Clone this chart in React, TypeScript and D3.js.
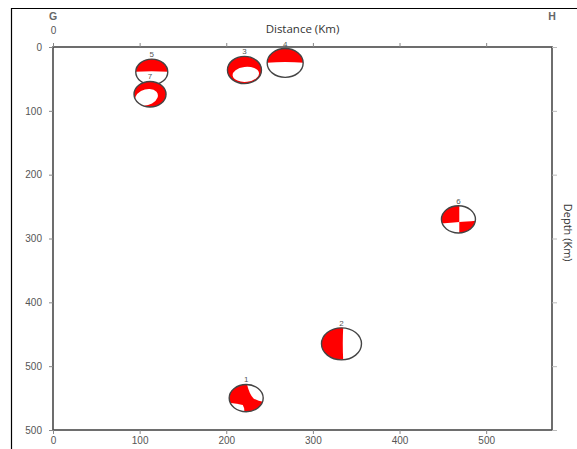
import React, { useRef, useEffect } from 'react';
import * as d3 from 'd3';

// focal mechanisms along profile G-H
const eventIds = ['1', '2', '3', '4', '5', '6', '7'];
const distances = [223, 333, 221, 268, 114, 468, 112];
const depths = [550, 465, 36, 25, 39, 270, 74];
const ballSizes = [17, 20, 17, 18, 16, 17, 16];
const mechanisms = ['oblique', 'half', 'lens', 'cap', 'cap', 'quad', 'lensLeft'];

const distTicks = [0, 100, 200, 300, 400, 500];
const depthTicks = [0, 100, 200, 300, 400, 500, 600];
const depthTickLabels = ['0', '100', '200', '300', '400', '500', '500'];

const RED = '#ff0000';
const FULL = 'M-1.3,-1.3H1.3V1.3H-1.3Z';

// beachball glyphs in unit-circle coordinates (y down)
const glyphs: Record<string, { fill: string; d?: string; e?: number[] }[]> = {
  cap: [
    { fill: '#fff', d: FULL },
    { fill: RED, d: 'M-1.3,-1.3H1.3V0.02Q0,-0.14 -1.3,0.02Z' },
  ],
  half: [
    { fill: '#fff', d: FULL },
    { fill: RED, d: 'M-1.3,-1.3H0.1Q0.03,0 0.1,1.3H-1.3Z' },
  ],
  lens: [
    { fill: RED, d: FULL },
    { fill: '#fff', e: [0.08, 0.32, 0.78, 0.55, -8] },
  ],
  lensLeft: [
    { fill: RED, d: FULL },
    { fill: '#fff', e: [-0.22, 0.24, 0.76, 0.6, -35] },
  ],
  quad: [
    { fill: '#fff', d: FULL },
    { fill: RED, d: 'M-1.3,-1.3H0.05V0.2Q-0.5,0.28 -1.3,0.32Z' },
    { fill: RED, d: 'M0.05,0.2Q0.5,0.16 1.3,0.08V1.3H0.05Z' },
  ],
  oblique: [
    { fill: RED, d: FULL },
    { fill: '#fff', d: 'M0.0,-1.3Q0.15,-0.3 0.45,0.05Q0.8,0.3 1.3,0.3V-1.3Z' },
    { fill: '#fff', d: 'M-1.3,0.3Q-0.6,0.4 -0.2,0.5Q-0.05,0.8 -0.15,1.3H-1.3Z' },
  ],
};

const App = () => {
  const chartRef = useRef<SVGSVGElement>(null);

  useEffect(() => {
    const chartDOM = chartRef.current;
    if (!chartDOM) return;
    const svg = d3.select(chartDOM);
    svg.selectAll('*').remove();

    const margin = { top: 47, right: 25, bottom: 19, left: 53 };
    const width = 577,
      height = 449;

    const x = d3.scaleLinear().domain([0, 576]).range([margin.left, width - margin.right]);
    const y = d3.scaleLinear().domain([0, 600]).range([margin.top, height - margin.bottom]);

    const font = "'Open Sans', 'Liberation Sans', sans-serif";
    const tickFont = "'Liberation Sans', Arial, sans-serif";

    // outer frame of the figure
    svg.append('path').attr('d', 'M11.5,449V8.5H577').attr('fill', 'none').attr('stroke', '#000').attr('stroke-width', 1.2);

    const defs = svg.append('defs');
    defs.append('clipPath').attr('id', 'unitBall').append('circle').attr('r', 1);

    // plot frame
    svg
      .append('rect')
      .attr('x', x(0))
      .attr('y', y(0))
      .attr('width', x(576) - x(0))
      .attr('height', y(600) - y(0))
      .attr('fill', 'none')
      .attr('stroke', '#4a4a4a')
      .attr('stroke-width', 1.6);

    const styleAxis = (g: any) => {
      g.select('.domain').remove();
      g.selectAll('line').attr('stroke', '#888');
      g.selectAll('text').attr('fill', '#555').attr('font-size', 10).attr('font-family', tickFont);
    };

    svg
      .append('g')
      .attr('transform', 'translate(0,' + y(600) + ')')
      .call(d3.axisBottom(x).tickValues(distTicks).tickSize(4).tickPadding(3).tickFormat(d3.format('d')))
      .call(styleAxis);

    svg
      .append('g')
      .attr('transform', 'translate(0,' + y(0) + ')')
      .call(
        d3
          .axisTop(x)
          .tickValues(distTicks)
          .tickSize(4)
          .tickPadding(9)
          .tickFormat((d: any) => (d === 0 ? '0' : ''))
      )
      .call(styleAxis);

    svg
      .append('g')
      .attr('transform', 'translate(' + x(0) + ',0)')
      .call(
        d3
          .axisLeft(y)
          .tickValues(depthTicks)
          .tickSize(4)
          .tickPadding(7)
          .tickFormat((d: any, i: number) => depthTickLabels[i])
      )
      .call(styleAxis);

    svg
      .append('g')
      .attr('transform', 'translate(' + x(576) + ',0)')
      .call(d3.axisRight(y).tickValues(depthTicks).tickSize(5).tickFormat(() => ''))
      .call(styleAxis)
      .selectAll('line')
      .attr('stroke', '#bbb');

    // titles
    svg
      .append('text')
      .attr('x', (x(0) + x(576)) / 2)
      .attr('y', 33)
      .attr('text-anchor', 'middle')
      .attr('font-family', font)
      .attr('font-size', 11.5)
      .attr('fill', '#333')
      .text('Distance (Km)');

    svg
      .append('text')
      .attr('transform', 'translate(564,' + (y(0) + y(600)) / 2.05 + ') rotate(90)')
      .attr('text-anchor', 'middle')
      .attr('font-family', font)
      .attr('font-size', 11)
      .attr('fill', '#333')
      .text('Depth (Km)');

    [
      ['G', x(0)],
      ['H', x(576)],
    ].forEach(([t, px]) => {
      svg
        .append('text')
        .attr('x', px as number)
        .attr('y', 20)
        .attr('text-anchor', 'middle')
        .attr('font-family', tickFont)
        .attr('font-weight', 'bold')
        .attr('font-size', 10.5)
        .attr('fill', '#666')
        .text(t as string);
    });

    // beachballs
    const events = eventIds.map((id, i) => ({
      id,
      dist: distances[i],
      depth: depths[i],
      size: ballSizes[i],
      mech: mechanisms[i],
    }));

    const balls = svg
      .append('g')
      .selectAll('g')
      .data(events)
      .enter()
      .append('g')
      .attr('transform', (d) => 'translate(' + x(d.dist) + ',' + y(d.depth) + ')');

    balls.each(function (d) {
      const g = d3.select(this);
      const rx = d.size,
        ry = d.size * 0.8;
      const inner = g
        .append('g')
        .attr('transform', 'scale(' + rx + ',' + ry + ')')
        .append('g')
        .attr('clip-path', 'url(#unitBall)');
      glyphs[d.mech].forEach((s) => {
        if (s.d) inner.append('path').attr('d', s.d).attr('fill', s.fill);
        else if (s.e)
          inner
            .append('ellipse')
            .attr('transform', 'translate(' + s.e[0] + ',' + s.e[1] + ') rotate(' + s.e[4] + ')')
            .attr('rx', s.e[2])
            .attr('ry', s.e[3])
            .attr('fill', s.fill);
      });
      g.append('ellipse')
        .attr('rx', rx)
        .attr('ry', ry)
        .attr('fill', 'none')
        .attr('stroke', '#444')
        .attr('stroke-width', 1.4);
      g.append('text')
        .attr('y', -ry - 2)
        .attr('text-anchor', 'middle')
        .attr('font-family', tickFont)
        .attr('font-size', 8)
        .attr('fill', '#555')
        .text(d.id);
    });
  });

  return (
    <svg
      ref={chartRef}
      width="577"
      height="449"
      style={{ position: 'absolute', left: 0, top: 0, background: '#fff' }}
    />
  );
};

export default App;
